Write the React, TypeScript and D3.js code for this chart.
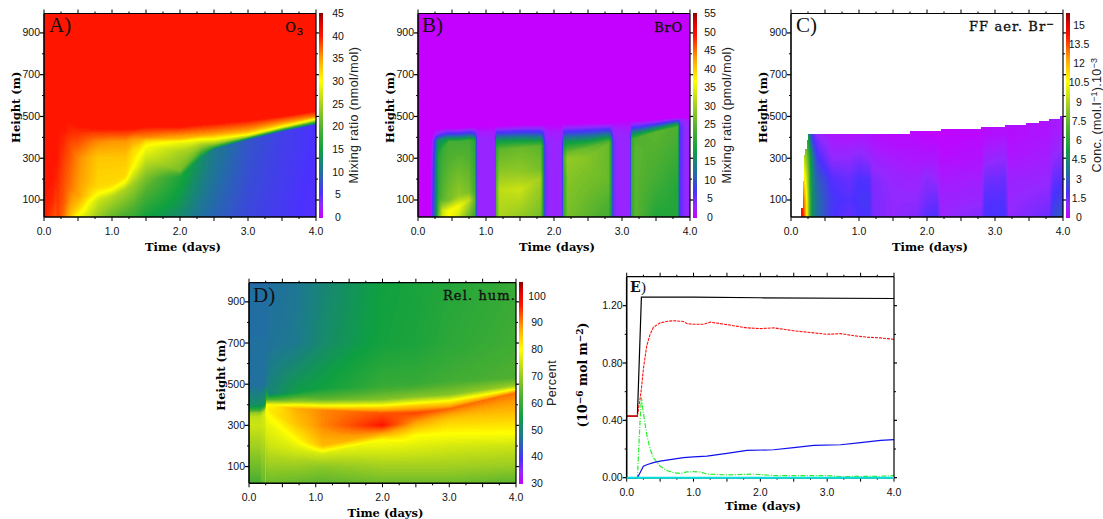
import React, { useEffect, useRef } from "react";
import * as d3 from "d3";

// ---------- shared colour table (position along bar, colour) ----------
const cmapStops = [0, 0.06, 0.12, 0.22, 0.33, 0.44, 0.55, 0.667, 0.78, 0.89, 0.96, 1];
const cmapColors = ["#c400ff", "#9428ff", "#4c30ff", "#2070a0", "#0ea040", "#50b030", "#a4d020", "#ffff00", "#ffa000", "#ff1400", "#d80000", "#8c0000"];

// ---------- A) O3 ----------
const o3Times = [0, 0.12, 0.18, 0.19, 0.3, 0.5, 0.8, 1.0, 1.2, 1.32, 1.5, 2.0, 2.3, 2.5, 3, 3.5, 4];
const o3Heights = [
  [20, 100, 200, 300, 400, 450, 500, 1000],
  [20, 100, 200, 300, 400, 450, 500, 1000],
  [20, 100, 200, 300, 400, 450, 500, 1000],
  [20, 100, 200, 300, 400, 450, 500, 1000],
  [20, 100, 200, 300, 400, 440, 500, 1000],
  [20, 60, 120, 200, 300, 400, 450, 1000],
  [20, 100, 130, 160, 300, 380, 440, 1000],
  [20, 120, 150, 175, 300, 380, 440, 1000],
  [20, 150, 190, 215, 300, 380, 440, 1000],
  [20, 170, 260, 300, 340, 390, 440, 1000],
  [20, 200, 300, 360, 380, 400, 450, 1000],
  [20, 210, 240, 330, 375, 395, 450, 1000],
  [20, 300, 330, 370, 390, 410, 460, 1000],
  [20, 345, 352, 368, 392, 415, 465, 1000],
  [20, 388, 394, 402, 412, 432, 480, 1000],
  [20, 428, 434, 442, 450, 468, 500, 1000],
  [20, 460, 468, 478, 488, 500, 525, 1000],
];
const o3Values = [
  [40, 40, 40, 40, 40, 40, 40, 40],
  [38.5, 39.5, 40, 40, 40, 40, 40, 40],
  [37.5, 38.5, 39.5, 40, 40, 40, 40, 40],
  [39, 39, 39.5, 40, 40, 40, 40, 40],
  [36.5, 37.5, 38, 38.5, 39.5, 40, 40, 40],
  [29.5, 32.5, 35, 35.5, 36, 38.5, 40, 40],
  [24, 27, 30, 32, 33, 36, 40, 40],
  [21, 26, 30, 32, 33, 35.5, 40, 40],
  [19, 25, 30, 32, 33, 35.5, 40, 40],
  [18, 24, 30, 31, 32, 35, 40, 40],
  [15, 22, 27, 30, 32, 36, 40, 40],
  [12.5, 16, 22, 25, 29, 34, 40, 40],
  [10, 13, 20, 26, 30, 35, 40, 40],
  [9, 11, 17, 24, 30, 35, 40, 40],
  [7, 8, 14, 24, 30, 35, 40, 40],
  [6, 6.5, 14, 24, 30, 35, 40, 40],
  [5, 5.5, 14, 24, 30, 36, 40, 40],
];
const o3Legend = [0, 5, 10, 15, 20, 25, 30, 35, 40, 45];

// ---------- B) BrO ----------
const broTimes = [0, 0.18, 0.2, 0.22, 0.26, 0.3, 0.36, 0.45, 0.6, 0.75, 0.84, 0.87, 1.13, 1.15, 1.2, 1.5, 1.8, 1.83, 1.87, 1.95, 2.12, 2.14, 2.2, 2.5, 2.8, 2.84, 2.87, 2.95, 3.12, 3.14, 3.2, 3.5, 3.82, 3.85, 3.95, 4];
const broHeights = [
  [20, 100, 200, 300, 380, 420, 440, 1000],
  [20, 100, 200, 300, 380, 400, 420, 1000],
  [20, 100, 200, 300, 380, 400, 420, 1000],
  [20, 100, 200, 300, 380, 405, 430, 1000],
  [20, 60, 130, 300, 385, 410, 440, 1000],
  [20, 60, 130, 300, 385, 410, 440, 1000],
  [20, 50, 100, 340, 390, 415, 445, 1000],
  [20, 50, 100, 380, 395, 420, 445, 1000],
  [20, 70, 120, 380, 395, 420, 445, 1000],
  [20, 100, 140, 385, 400, 425, 450, 1000],
  [20, 100, 140, 385, 400, 425, 450, 1000],
  [20, 100, 140, 385, 400, 425, 450, 1000],
  [20, 150, 250, 345, 385, 425, 455, 1000],
  [20, 150, 250, 345, 385, 425, 455, 1000],
  [20, 150, 250, 345, 385, 425, 455, 1000],
  [20, 150, 230, 350, 388, 430, 460, 1000],
  [20, 200, 250, 360, 388, 430, 462, 1000],
  [20, 200, 250, 360, 388, 430, 462, 1000],
  [20, 200, 250, 360, 388, 430, 462, 1000],
  [20, 200, 300, 330, 380, 430, 465, 1000],
  [20, 200, 300, 330, 380, 430, 465, 1000],
  [20, 200, 300, 330, 380, 430, 465, 1000],
  [20, 200, 300, 330, 380, 430, 465, 1000],
  [20, 200, 300, 350, 385, 435, 468, 1000],
  [20, 200, 370, 385, 400, 440, 470, 1000],
  [20, 200, 370, 385, 400, 440, 470, 1000],
  [20, 200, 370, 385, 400, 440, 470, 1000],
  [20, 200, 350, 395, 415, 450, 480, 1000],
  [20, 200, 350, 395, 415, 450, 480, 1000],
  [20, 200, 350, 395, 415, 450, 480, 1000],
  [20, 200, 350, 395, 415, 450, 480, 1000],
  [20, 200, 300, 425, 440, 465, 485, 1000],
  [20, 150, 300, 450, 465, 482, 495, 1000],
  [20, 150, 300, 450, 465, 482, 495, 1000],
  [20, 150, 300, 450, 465, 482, 495, 1000],
  [20, 150, 300, 450, 465, 482, 495, 1000],
];
const broValues = [
  [0, 0, 0, 0, 0, 0, 0, 0],
  [0, 0, 0, 0, 0, 0, 0, 0],
  [3, 3, 3, 2, 1, 0, 0, 0],
  [7, 7, 6, 5, 3, 1, 0, 0],
  [15, 14, 13, 12, 10, 4, 0, 0],
  [26, 24, 21, 20, 16, 5, 0, 0],
  [33, 33, 25, 22, 16, 6, 0, 0],
  [37, 36, 27, 23, 16, 6, 0, 0],
  [33, 36, 29, 23, 16, 6, 0, 0],
  [26, 32, 27, 23, 16, 6, 0, 0],
  [22, 25, 23, 20, 14, 5, 0, 0],
  [3, 3, 3, 3, 3, 2, 0, 0],
  [3, 3, 3, 3, 3, 2, 0, 0],
  [24, 25, 23, 21, 16, 6, 0, 0],
  [31, 32, 28, 25, 17, 6, 0, 0],
  [29, 33, 29, 26, 17, 6, 0, 0],
  [27, 30, 27, 25, 17, 6, 0, 0],
  [22, 24, 22, 20, 14, 5, 0, 0],
  [5, 5, 5, 5, 4, 3, 0, 0],
  [3, 3, 3, 3, 3, 2, 0, 0],
  [3, 3, 3, 3, 3, 2, 0, 0],
  [21, 21, 23, 21, 15, 6, 0, 0],
  [27, 28, 29, 26, 17, 6, 0, 0],
  [25, 27, 28, 26, 17, 6, 0, 0],
  [23, 26, 26, 23, 17, 6, 0, 0],
  [18, 20, 20, 18, 13, 5, 0, 0],
  [5, 5, 5, 5, 4, 3, 0, 0],
  [3, 3, 3, 3, 3, 2, 0, 0],
  [3, 3, 3, 3, 3, 2, 0, 0],
  [21, 22, 22, 21, 15, 6, 0, 0],
  [25, 25, 25, 24, 17, 6, 0, 0],
  [20, 23, 24, 25, 17, 6, 0, 0],
  [20, 20, 22, 24, 17, 6, 0, 0],
  [6, 6, 6, 6, 5, 4, 0, 0],
  [3, 3, 3, 3, 3, 2, 0, 0],
  [3, 3, 3, 3, 3, 2, 0, 0],
];
const broLegend = [0, 5, 10, 15, 20, 25, 30, 35, 40, 45, 50, 55];

// ---------- C) FF aerosol Br- ----------
const ffTimes = [0.15, 0.18, 0.22, 0.25, 0.29, 0.32, 0.36, 0.4, 0.6, 0.85, 1.0, 1.15, 1.2, 1.5, 1.85, 2.0, 2.15, 2.2, 2.8, 2.85, 3.15, 3.2, 3.8, 3.85, 4];
const ffHeights = [20, 100, 200, 300, 420, 520];
const ffValues = [
  [14.5, 14.5, 14, 14, 14, 14],
  [14, 13.5, 12, 9.5, 8, 8],
  [12, 11.5, 10, 8.5, 7, 7],
  [9, 9, 8.5, 7.5, 5, 5],
  [6, 6, 5.5, 5, 3, 3],
  [4.5, 4.5, 4.3, 4, 1.5, 1.5],
  [3.8, 3.8, 3.4, 2.8, 1.1, 1.1],
  [3.4, 3.4, 3, 2, 0.9, 0.9],
  [2, 2.1, 1.8, 1, 0.5, 0.5],
  [1.6, 1.8, 1.5, 1, 0.4, 0.4],
  [1.9, 2, 1.9, 1.2, 0.4, 0.4],
  [2, 2.1, 1.8, 1, 0.4, 0.4],
  [1.3, 1.3, 1.2, 0.8, 0.3, 0.3],
  [1, 1, 0.9, 0.6, 0.2, 0.2],
  [1.2, 1, 0.8, 0.5, 0.2, 0.2],
  [1.8, 1.4, 1.1, 0.5, 0.1, 0.1],
  [1.9, 1.5, 0.9, 0.5, 0.1, 0.1],
  [0.9, 0.8, 0.6, 0.3, 0.1, 0.1],
  [1.2, 0.9, 0.7, 0.4, 0.2, 0.2],
  [1.9, 1.8, 1.4, 0.8, 0.3, 0.3],
  [2, 1.8, 1.5, 1, 0.4, 0.4],
  [1, 0.9, 0.8, 0.5, 0.3, 0.3],
  [1.5, 1.2, 0.9, 0.7, 0.5, 0.5],
  [2.5, 2, 1.5, 1, 0.6, 0.6],
  [3, 2.4, 1.8, 1.2, 0.7, 0.7],
];
// top of the filled region, as a stair: time of the step and height reached from there on
const ffTopTimes = [0.15, 0.17, 0.19, 0.21, 0.23, 0.25, 1.75, 2.2, 2.8, 3.15, 3.45, 3.65, 3.8, 3.95];
const ffTopHeights = [60, 190, 315, 345, 385, 418, 430, 440, 450, 460, 470, 480, 490, 500];
const ffLegend = [0, 1.5, 3, 4.5, 6, 7.5, 9, 10.5, 12, 13.5, 15];

// ---------- D) Relative humidity ----------
const rhTimes = [0, 0.17, 0.18, 0.24, 0.25, 0.26, 0.3, 0.7, 1.1, 2.0, 2.5, 3, 4];
const rhHeights = [
  [20, 100, 200, 300, 340, 360, 375, 395, 500, 700, 1000],
  [20, 100, 200, 300, 340, 360, 375, 395, 500, 700, 1000],
  [20, 100, 200, 300, 340, 360, 375, 395, 500, 700, 1000],
  [20, 100, 200, 300, 350, 370, 380, 400, 500, 700, 1000],
  [20, 100, 200, 300, 360, 380, 400, 415, 500, 700, 1000],
  [20, 100, 200, 300, 380, 400, 415, 430, 500, 700, 1000],
  [20, 100, 200, 300, 380, 400, 415, 430, 450, 700, 1000],
  [20, 100, 180, 230, 300, 380, 400, 415, 460, 700, 1000],
  [20, 100, 160, 200, 300, 375, 395, 425, 480, 700, 1000],
  [20, 100, 230, 260, 300, 360, 390, 425, 490, 700, 1000],
  [20, 100, 200, 250, 310, 360, 395, 440, 500, 700, 1000],
  [20, 100, 200, 260, 330, 380, 420, 450, 520, 700, 1000],
  [20, 100, 200, 260, 380, 460, 480, 495, 530, 700, 1000],
];
const rhValues = [
  [62, 66, 71, 75, 74, 70, 60, 52, 46.5, 46.5, 46],
  [62, 66, 71, 75, 74, 70, 60, 52, 46.5, 46.5, 46],
  [65, 68, 72, 75, 75, 72, 62, 52, 46.5, 46.5, 46],
  [65, 68, 72, 76, 76, 74, 66, 54, 47, 46.5, 46],
  [74, 74, 75, 76, 79, 78, 66, 56, 47, 46.5, 46],
  [65, 69, 74, 78, 80, 80, 70, 60, 48, 46.5, 46],
  [66, 70, 75, 78, 82, 80, 70, 60, 50, 47, 46.5],
  [65, 70, 76, 80, 85, 87, 80, 70, 54, 48, 47.5],
  [64, 69, 76, 86, 90, 90, 80, 65, 55, 51, 50],
  [66, 71, 80, 88, 97, 93, 83, 68, 60, 55.5, 55],
  [66, 71, 77, 80, 88, 94, 85, 68, 60, 56.5, 56],
  [66, 71, 76, 80, 85, 92, 80, 68, 61, 58.5, 57.5],
  [64, 70, 75, 80, 87, 91, 78, 70, 63, 61, 60],
];
const rhLegend = [30, 40, 50, 60, 70, 80, 90, 100];

// ---------- E) Column totals ----------
const totalTimes = [0, 0.16, 0.22, 1, 2, 4];
const totalValues = [0.43, 0.43, 1.26, 1.26, 1.255, 1.25];
const aerosolTimes = [0.16, 0.2, 0.22, 0.25, 0.3, 0.35, 0.4, 0.5, 0.6, 0.7, 0.85, 0.9, 1.0, 1.15, 1.25, 1.4, 1.6, 1.8, 2.0, 2.2, 2.5, 2.8, 3.0, 3.2, 3.4, 3.6, 3.8, 4];
const aerosolValues = [0.43, 0.55, 0.62, 0.76, 0.92, 1.0, 1.05, 1.08, 1.09, 1.095, 1.09, 1.075, 1.07, 1.07, 1.085, 1.075, 1.06, 1.045, 1.04, 1.045, 1.025, 1.01, 1.0, 1.005, 0.99, 0.98, 0.975, 0.965];
const preTimes = [0, 0.16];
const preValues = [0.43, 0.43];
const gasTimes = [0, 0.16, 0.2, 0.22, 0.25, 0.3, 0.35, 0.4, 0.5, 0.6, 0.7, 0.8, 0.9, 1.0, 1.1, 1.2, 1.5, 1.9, 2.2, 3, 3.2, 3.8, 4];
const gasValues = [0, 0, 0.4, 0.56, 0.45, 0.3, 0.2, 0.14, 0.08, 0.05, 0.035, 0.03, 0.04, 0.042, 0.04, 0.025, 0.02, 0.025, 0.015, 0.015, 0.008, 0.01, 0.015];
const depoTimes = [0, 0.16, 0.2, 0.25, 0.3, 0.4, 0.5, 0.7, 0.85, 1.0, 1.2, 1.5, 1.8, 2.2, 2.5, 2.8, 3.2, 3.5, 3.8, 4];
const depoValues = [0, 0, 0.035, 0.08, 0.09, 0.105, 0.115, 0.13, 0.14, 0.145, 0.15, 0.17, 0.19, 0.195, 0.21, 0.225, 0.23, 0.245, 0.26, 0.265];
const baseTimes = [0, 4];
const baseValues = [0, 0];

const SERIF = "'DejaVu Serif', serif";
const LABEL = "'Liberation Serif', serif";
const SANS = "'Liberation Sans', sans-serif";
const LEVELS = 180;

const cmap = d3.scaleLinear<string>().domain(cmapStops).range(cmapColors).interpolate(d3.interpolateRgb).clamp(true);

type Box = { x0: number; x1: number; y0: number; y1: number };
type Mesh = {
  times: number[];
  heights: (i: number) => number[];
  values: number[][];
  top?: (t: number) => number;
};

function fillMesh(g: d3.Selection<SVGGElement, unknown, null, undefined>, b: Box, mesh: Mesh, vmin: number, vmax: number) {
  const xs = d3.scaleLinear().domain([0, 4]).range([b.x0, b.x1]);
  const ys = d3.scaleLinear().domain([18.6, 993]).range([b.y1, b.y0]);
  const norm = d3.scaleLinear().domain([vmin, vmax]).range([0, 1]).clamp(true);
  const paths = d3.range(LEVELS + 1).map(() => d3.path());
  const used = new Set<number>();
  const n = mesh.values[0].length;
  for (let px = Math.floor(b.x0); px < b.x1; px += 1) {
    const t = xs.invert(px + 0.5);
    if (t < mesh.times[0]) continue;
    let i = d3.bisectRight(mesh.times, t) - 1;
    i = Math.min(i, mesh.times.length - 2);
    const f = Math.min(1, (t - mesh.times[i]) / (mesh.times[i + 1] - mesh.times[i]));
    const za = mesh.heights(i), zb = mesh.heights(i + 1);
    const zk = d3.range(n).map((k) => za[k] + (zb[k] - za[k]) * f);
    const vk = d3.range(n).map((k) => mesh.values[i][k] + (mesh.values[i + 1][k] - mesh.values[i][k]) * f);
    const prof = d3.scaleLinear().domain(zk).range(vk).clamp(true);
    const zTop = mesh.top ? mesh.top(t) : Infinity;
    let runStart = -1, runLevel = -1;
    const y0 = Math.floor(b.y0), y1 = Math.ceil(b.y1);
    for (let py = y0; py <= y1; py += 1) {
      let level = -1;
      if (py < y1) {
        const z = ys.invert(py + 0.5);
        if (z <= zTop) level = Math.round(norm(prof(z)) * LEVELS);
      }
      if (level !== runLevel) {
        if (runLevel >= 0) {
          paths[runLevel].rect(px, runStart, 1, py - runStart);
          used.add(runLevel);
        }
        runStart = py;
        runLevel = level;
      }
    }
  }
  used.forEach((l) => {
    g.append("path").attr("d", paths[l].toString()).attr("fill", cmap(l / LEVELS)).attr("shape-rendering", "crispEdges");
  });
}

function frameTicks(
  g: d3.Selection<SVGGElement, unknown, null, undefined>,
  xs: d3.ScaleLinear<number, number>,
  ys: d3.ScaleLinear<number, number>,
  xMajor: number[], xMinor: number[], xLabels: number[],
  yMajor: number[], yMinor: number[], yLabels: number[],
  yFmt: (v: number) => string,
) {
  const [x0, x1] = xs.range();
  const [y1, y0] = ys.range();
  const line = (a: number, b: number, c: number, d: number, w = 1) =>
    g.append("line").attr("x1", a).attr("y1", b).attr("x2", c).attr("y2", d).attr("stroke", "#000").attr("stroke-width", w);
  xMajor.forEach((v) => {
    line(xs(v), y1, xs(v), y1 + 4);
    line(xs(v), y0, xs(v), y0 - 4);
  });
  xMinor.forEach((v) => {
    line(xs(v), y1, xs(v), y1 + 2);
    line(xs(v), y0, xs(v), y0 - 2);
  });
  yMajor.forEach((v) => {
    line(x0, ys(v), x0 - 4, ys(v), 1.2);
    line(x1, ys(v), x1 + 3, ys(v), 1.2);
  });
  yMinor.forEach((v) => {
    line(x0, ys(v), x0 - 2, ys(v));
    line(x1, ys(v), x1 + 2, ys(v));
  });
  line(x0, y0, x1, y0, 1.2);
  line(x0, y1, x1, y1, 1.6);
  line(x0, y0, x0, y1, 1.6);
  line(x1, y0, x1, y1, 1.2);
  xLabels.forEach((v) => {
    g.append("text").attr("x", xs(v)).attr("y", y1 + 18).attr("text-anchor", "middle")
      .attr("font-family", SANS).attr("font-size", 10.5).attr("fill", "#111").text(v.toFixed(1));
  });
  yLabels.forEach((v) => {
    g.append("text").attr("x", x0 - 4).attr("y", ys(v) + 3.5).attr("text-anchor", "end")
      .attr("font-family", SANS).attr("font-size", 10.5).attr("fill", "#111").text(yFmt(v));
  });
}

function colorBar(
  g: d3.Selection<SVGGElement, unknown, null, undefined>,
  bx: number, by0: number, by1: number, vmin: number, vmax: number, ticks: number[], labelX: number,
) {
  const sc = d3.scaleLinear().domain([vmin, vmax]).range([by1, by0]);
  const norm = d3.scaleLinear().domain([by1, by0]).range([0, 1]);
  d3.range(Math.floor(by0), Math.ceil(by1)).forEach((py) => {
    g.append("rect").attr("x", bx).attr("y", py).attr("width", 4).attr("height", 1)
      .attr("fill", cmap(norm(py + 0.5))).attr("shape-rendering", "crispEdges");
  });
  ticks.forEach((v) => {
    g.append("text").attr("x", labelX).attr("y", sc(v) + 3.5).attr("text-anchor", "middle")
      .attr("font-family", SANS).attr("font-size", 10.5).attr("fill", "#111").text(String(v));
  });
}

const xMajorTicks = d3.range(0, 4.01, 0.5);
const xMinorTicks = d3.range(0.25, 4, 0.5);
const xLabelTicks = [0, 1, 2, 3, 4];
const zMajorTicks = [100, 300, 500, 700, 900];
const zMinorTicks = [200, 400, 600, 800];

function heatPanel(
  root: d3.Selection<SVGSVGElement, unknown, null, undefined>,
  b: Box, mesh: Mesh, vmin: number, vmax: number, ticks: number[], barX: number, labelX: number,
) {
  const g = root.append("g");
  fillMesh(g, b, mesh, vmin, vmax);
  const xs = d3.scaleLinear().domain([0, 4]).range([b.x0, b.x1]);
  const ys = d3.scaleLinear().domain([18.6, 993]).range([b.y1, b.y0]);
  frameTicks(g, xs, ys, xMajorTicks, xMinorTicks, xLabelTicks, zMajorTicks, zMinorTicks, zMajorTicks, (v) => String(v));
  colorBar(g, barX, b.y0, b.y1 + 0.5, vmin, vmax, ticks, labelX);
  g.append("text").attr("x", (b.x0 + b.x1) / 2 + 3).attr("y", b.y1 + 34).attr("text-anchor", "middle")
    .attr("font-family", SERIF).attr("font-weight", "bold").attr("font-size", 11.5).text("Time (days)");
  g.append("text").attr("transform", `translate(${b.x0 - 24},${(b.y0 + b.y1) / 2 - 8}) rotate(-90)`).attr("text-anchor", "middle")
    .attr("font-family", SERIF).attr("font-weight", "bold").attr("font-size", 11.5).text("Height (m)");
  return g;
}

const stair = d3.scaleThreshold<number, number>().domain(ffTopTimes).range([0, ...ffTopHeights]);

export default function App() {
  const ref = useRef<SVGSVGElement>(null);
  useEffect(() => {
    const root = d3.select(ref.current as SVGSVGElement);
    root.selectAll("*").remove();
    const yA = { y0: 13.5, y1: 217 };

    const gA = heatPanel(root, { x0: 44, x1: 316, ...yA },
      { times: o3Times, heights: (i) => o3Heights[i], values: o3Values }, 0, 45, o3Legend, 319, 338);
    const gB = heatPanel(root, { x0: 418, x1: 690, ...yA },
      { times: broTimes, heights: (i) => broHeights[i], values: broValues }, 0, 55, broLegend, 692.5, 710);
    const gC = heatPanel(root, { x0: 791, x1: 1063, ...yA },
      { times: ffTimes, heights: () => ffHeights, values: ffValues, top: (t) => stair(t) }, 0, 15.9, ffLegend, 1066, 1079);
    const gD = heatPanel(root, { x0: 249, x1: 516, y0: 282.7, y1: 483.3 },
      { times: rhTimes, heights: (i) => rhHeights[i], values: rhValues }, 30, 105, rhLegend, 519, 537);

    const sideTitle = (g: typeof gA, x: number, y: number, txt: string) =>
      g.append("text").attr("transform", `translate(${x},${y}) rotate(-90)`).attr("text-anchor", "middle")
        .attr("font-family", SANS).attr("font-size", 12.5).attr("letter-spacing", 0.45).attr("fill", "#222").text(txt);
    sideTitle(gA, 358, 115, "Mixing ratio (nmol/mol)");
    sideTitle(gB, 731, 115, "Mixing ratio (pmol/mol)");
    sideTitle(gD, 556, 383, "Percent");
    const conc = gC.append("text").attr("transform", "translate(1101,115) rotate(-90)").attr("text-anchor", "middle")
      .attr("font-family", SANS).attr("font-size", 12.5).attr("letter-spacing", 0.3).attr("fill", "#222");
    conc.append("tspan").text("Conc. (mol.l");
    conc.append("tspan").attr("dy", -4).attr("font-size", 9).text("−1");
    conc.append("tspan").attr("dy", 4).text(").10");
    conc.append("tspan").attr("dy", -4).attr("font-size", 9).text("−3");

    const panelTag = (g: typeof gA, x: number, y: number, txt: string) =>
      g.append("text").attr("x", x).attr("y", y).attr("font-family", LABEL).attr("font-size", 21).attr("fill", "#111").text(txt);
    panelTag(gA, 49, 32, "A)");
    panelTag(gB, 422, 32, "B)");
    panelTag(gC, 796, 32, "C)");
    panelTag(gD, 253, 302, "D)");

    const title = (g: typeof gA, x: number, y: number, sp: number) =>
      g.append("text").attr("x", x).attr("y", y).attr("text-anchor", "end").attr("font-family", SERIF)
        .attr("font-size", 13).attr("stroke", "#111").attr("stroke-width", 0.35)
        .attr("letter-spacing", sp).attr("fill", "#111");
    const tA = title(gA, 304, 32, 0.8);
    tA.append("tspan").text("O");
    tA.append("tspan").attr("dy", 3).attr("font-size", 10).text("3");
    title(gB, 683, 32, 0.8).text("BrO");
    const tC = title(gC, 1055, 31, 1.1);
    tC.append("tspan").text("FF aer. Br");
    tC.append("tspan").attr("dy", -4).attr("font-size", 9).text("−");
    title(gD, 516, 300, 1.1).text("Rel. hum.");

    // Panel E
    const gE = root.append("g");
    const xE = d3.scaleLinear().domain([0, 4]).range([626.7, 894]);
    const yE = d3.scaleLinear().domain([0, 1.402]).range([477.7, 276.7]);
    const drawLine = (ts: number[], vs: number[], color: string, dash: string | null, w: number) => {
      const pts = ts.map((t, i) => [xE(t), yE(vs[i])] as [number, number]);
      gE.append("path").attr("d", d3.line()(pts) as string).attr("fill", "none").attr("stroke", color)
        .attr("stroke-width", w).attr("stroke-dasharray", dash);
    };
    drawLine(totalTimes, totalValues, "#000", null, 1.2);
    drawLine(preTimes, preValues, "#ff0000", null, 1.3);
    drawLine(aerosolTimes, aerosolValues, "#ff1010", "3 1", 1.1);
    drawLine(gasTimes, gasValues, "#2cee2c", "5 1.5 1 1.5", 1.2);
    drawLine(depoTimes, depoValues, "#1010ee", null, 1.2);
    frameTicks(gE, xE, yE, xMajorTicks, xMinorTicks, xLabelTicks,
      [0, 0.4, 0.8, 1.2], [0.2, 0.6, 1.0], [0, 0.4, 0.8, 1.2], (v) => v.toFixed(2));
    drawLine(baseTimes, baseValues, "#00e0e0", null, 2);
    gE.append("text").attr("x", 763).attr("y", 510).attr("text-anchor", "middle")
      .attr("font-family", SERIF).attr("font-weight", "bold").attr("font-size", 11.5).text("Time (days)");
    const ylab = gE.append("text").attr("transform", "translate(587,375) rotate(-90)").attr("text-anchor", "middle")
      .attr("font-family", SERIF).attr("font-weight", "bold").attr("font-size", 12.5);
    ylab.append("tspan").text("(10");
    ylab.append("tspan").attr("dy", -4).attr("font-size", 9).text("−6");
    ylab.append("tspan").attr("dy", 4).text(" mol m");
    ylab.append("tspan").attr("dy", -4).attr("font-size", 9).text("−2");
    ylab.append("tspan").attr("dy", 4).text(")");
    gE.append("text").attr("x", 630).attr("y", 292).attr("font-family", SERIF).attr("font-weight", "bold")
      .attr("font-size", 14).attr("fill", "#111").text("E");
    gE.append("text").attr("x", 641).attr("y", 292).attr("font-family", LABEL)
      .attr("font-size", 15).attr("fill", "#111").text(")");
  }, []);
  return <svg ref={ref} width={1103} height={519} style={{ position: "absolute", left: 0, top: 0, display: "block", background: "#fff" }} />;
}
